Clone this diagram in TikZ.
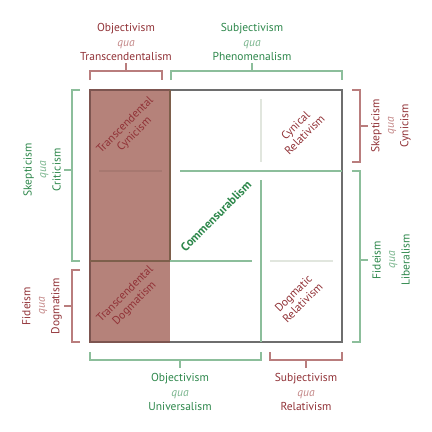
\documentclass[tikz,border=0pt]{standalone}
\usepackage{fontspec}
\setmainfont{PT Sans}
\definecolor{brT}{RGB}{145,50,55}
\definecolor{brQ}{RGB}{195,135,135}
\definecolor{brB}{RGB}{185,125,125}
\definecolor{grT}{RGB}{45,135,75}
\definecolor{grQ}{RGB}{120,180,140}
\definecolor{grB}{RGB}{140,190,155}
\definecolor{colfill}{RGB}{181,130,122}
\definecolor{bord}{RGB}{110,110,110}
\definecolor{edgeb}{RGB}{125,95,75}
\definecolor{coledge}{RGB}{125,85,80}
\definecolor{faint}{RGB}{225,230,222}
\begin{document}
\begin{tikzpicture}[x=1pt,y=-1pt,
  lbl/.style={align=center,inner sep=0pt,font=\fontsize{11.5}{14.5}\selectfont},
  inlbl/.style={align=center,inner sep=0pt,rotate=45,font=\fontsize{11.5}{13}\selectfont},
  bbr/.style={draw=brB,line width=1.4pt},
  gbr/.style={draw=grB,line width=1.4pt},
  gline/.style={draw=grB,line width=1.4pt},
  fline/.style={draw=faint,line width=1.4pt}]
\useasboundingbox (0,0) rectangle (432,432);
% main square
\fill[colfill] (90,90) rectangle (170,342);
\draw[bord,line width=2pt] (170,90) -- (342,90) -- (342,342) -- (170,342);
\draw[coledge,line width=2pt] (170,90) -- (90,90) -- (90,342) -- (170,342);
\draw[edgeb,line width=1.4pt] (170,90) -- (170,261);
\draw[edgeb,line width=1.4pt] (90,261) -- (170,261);
\draw[colfill!92!black,line width=1.4pt] (99,171) -- (162,171);
% inner lines
\draw[gline] (180,171) -- (342,171);
\draw[gline] (261,180) -- (261,342);
\draw[gline] (170,261) -- (252,261);
\draw[fline] (261,99) -- (261,162);
\draw[fline] (270,261) -- (333,261);
% inner labels
\node[inlbl,text=brT] (tc) at (130,130) {Transcendental\\Cynicism};
\node[inlbl,text=brT] (td) at (130,299) {Transcendental\\Dogmatism};
\node[inlbl,text=brT] (cr) at (300,130) {Cynical\\Relativism};
\node[inlbl,text=brT] (dr) at (298,298) {Dogmatic\\Relativism};
\node[inlbl,text=grT,font=\fontsize{12}{13}\bfseries] (com) at (216,216) {Commensurablism};
% top brackets
\draw[bbr] (90,80) -- (90,71) -- (162,71) -- (162,80);
\draw[bbr] (126,71) -- (126,63);
\draw[gbr] (171,80) -- (171,71) -- (342,71) -- (342,80);
\draw[gbr] (252,71) -- (252,63);
\node[lbl,text=brT] (tl) at (126,42) {Objectivism\\{\color{brQ}\itshape qua}\\Transcendentalism};
\node[lbl,text=grT] (tr) at (252,42) {Subjectivism\\{\color{grQ}\itshape qua}\\Phenomenalism};
% left brackets
\draw[gbr] (80,90) -- (72,90) -- (72,261) -- (80,261);
\draw[gbr] (72,170) -- (64,170);
\draw[bbr] (80,270) -- (72,270) -- (72,342) -- (80,342);
\draw[bbr] (72,306) -- (64,306);
\node[lbl,text=grT,rotate=90] (ls) at (42,170) {Skepticism\\{\color{grQ}\itshape qua}\\Criticism};
\node[lbl,text=brT,rotate=90] (lf) at (42,306) {Fideism\\{\color{brQ}\itshape qua}\\Dogmatism};
% right brackets
\draw[bbr] (352,90) -- (360,90) -- (360,162) -- (352,162);
\draw[bbr] (360,126) -- (368,126);
\draw[gbr] (352,171) -- (360,171) -- (360,342) -- (352,342);
\draw[gbr] (360,260) -- (368,260);
\node[lbl,text=brT,rotate=90] (rs) at (391,126) {Skepticism\\{\color{brQ}\itshape qua}\\Cynicism};
\node[lbl,text=grT,rotate=90] (rf) at (391,260) {Fideism\\{\color{grQ}\itshape qua}\\Liberalism};
% bottom brackets
\draw[gbr] (90,352) -- (90,360) -- (261,360) -- (261,352);
\draw[gbr] (180,360) -- (180,368);
\draw[bbr] (270,352) -- (270,360) -- (342,360) -- (342,352);
\draw[bbr] (306,360) -- (306,368);
\node[lbl,text=grT] (bo) at (180,392) {Objectivism\\{\color{grQ}\itshape qua}\\Universalism};
\node[lbl,text=brT] (bs) at (306,392) {Subjectivism\\{\color{brQ}\itshape qua}\\Relativism};
\end{tikzpicture}
\end{document}
